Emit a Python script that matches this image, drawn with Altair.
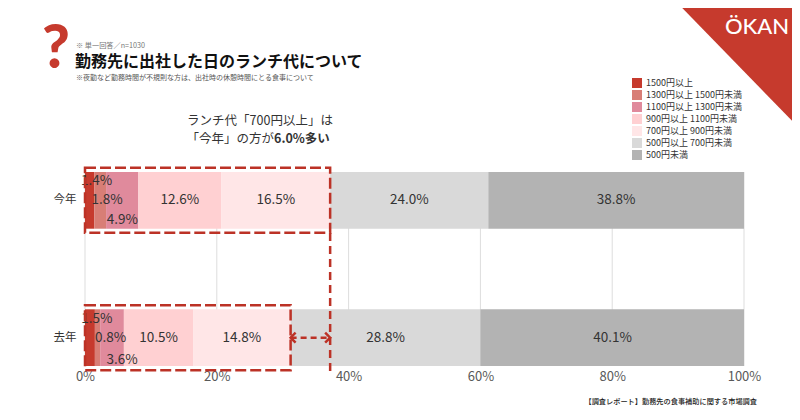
import altair as alt
import pandas as pd

# Data

YEARS = ['今年', '去年']
BRACKETS = [
  '1500円以上', '1300円以上 1500円未満', '1100円以上 1300円未満',
  '900円以上 1100円未満', '700円以上 900円未満', '500円以上 700円未満', '500円未満'
]
COLORS = ['#C63A2D', '#D87E76', '#E08A9C', '#FFD0D2', '#FFE6E7', '#D9D9D9', '#B3B3B3']
THIS_YEAR = [1.4, 1.8, 4.9, 12.6, 16.5, 24.0, 38.8]
LAST_YEAR = [1.5, 0.8, 3.6, 10.5, 14.8, 28.8, 40.1]
TICKS = [0, 20, 40, 60, 80, 100]

FONT = 'Noto Sans CJK JP'
RED = '#BC3226'
TEXT = '#333333'

rows = []
for year, values in zip(YEARS, [THIS_YEAR, LAST_YEAR]):
  start = 0.0
  for order, (bracket, value) in enumerate(zip(BRACKETS, values)):
    rows.append({
      'year': year, 'bracket': bracket, 'order': order, 'value': value,
      'start': start, 'end': min(start + value, 100), 'mid': start + value / 2,
      'label': f'{value:.1f}%'
    })
    start += value
source = pd.DataFrame(rows)

# share of 700 yen and over, the sum of the first five brackets
share = pd.DataFrame([
  {'year': year, 'low': 0, 'high': round(sum(values[:5]), 1)}
  for year, values in zip(YEARS, [THIS_YEAR, LAST_YEAR])
])
high_this = share['high'][0]
high_last = share['high'][1]

# Chart

x_scale = alt.Scale(domain=[0, 100], nice=False)
y_scale = alt.Scale(domain=YEARS, paddingInner=0.587, paddingOuter=0)
y = alt.Y('year:N', scale=y_scale, title=None)

def _x(field):
  return alt.X(field, scale=x_scale, title=None)

grid = alt.Chart(pd.DataFrame({'tick': TICKS})).mark_rule(
  color='#DDDDDD', strokeWidth=1
).encode(
  x=alt.X('tick:Q', scale=x_scale, title=None, axis=alt.Axis(
    values=TICKS, labelExpr='datum.value + "%"', grid=False, ticks=False, domain=False,
    labelFont=FONT, labelFontSize=13, labelColor='#595959', labelPadding=4, labelFlush=False
  ))
)

bars = alt.Chart(source).mark_bar(strokeWidth=0).encode(
  x=_x('start:Q'), x2='end:Q',
  y=alt.Y('year:N', scale=y_scale, title=None, axis=alt.Axis(
    ticks=False, domain=False, labelFont=FONT, labelFontSize=11.5,
    labelColor=TEXT, labelPadding=9
  )),
  color=alt.Color('bracket:N', scale=alt.Scale(domain=BRACKETS, range=COLORS), title=None, legend=alt.Legend(
    orient='none', legendX=547, legendY=-95, symbolType='square', symbolSize=100,
    symbolStrokeWidth=0, symbolOpacity=1, labelFont=FONT, labelFontSize=9, labelColor=TEXT,
    labelLimit=200, clipHeight=12, rowPadding=0, labelOffset=4
  )),
  order='order:Q'
)

def _segment_labels(year, orders, dx=0, dy=0):
  data = source[(source['year'] == year) & (source['order'].isin(orders))]
  return alt.Chart(data).mark_text(
    font=FONT, fontSize=13.5, color=TEXT, dx=dx, dy=dy
  ).encode(x=_x('mid:Q'), y=y, text='label:N')

labels = [
  _segment_labels('今年', [0], dx=7, dy=-19),
  _segment_labels('今年', [1], dx=7),
  _segment_labels('今年', [2], dy=20),
  _segment_labels('今年', [3, 4, 5, 6]),
  _segment_labels('去年', [0], dx=7, dy=-19),
  _segment_labels('去年', [1], dx=13),
  _segment_labels('去年', [2], dx=10, dy=22),
  _segment_labels('去年', [3, 4, 5, 6]),
]

boxes = alt.Chart(share).mark_bar(
  size=65, fillOpacity=0, stroke=RED, strokeWidth=2.5, strokeDash=[11, 4]
).encode(
  x=_x('low:Q'), x2='high:Q', y=y
)

drop_line = alt.Chart(share[share['year'] == '今年']).mark_rule(
  color=RED, strokeWidth=2.5, strokeDash=[8, 5]
).encode(
  x=_x('high:Q'), y=alt.value(61), y2=alt.value(200)
)

gap = pd.DataFrame({'year': ['去年'], 'low': [high_last], 'high': [high_this]})
gap_line = alt.Chart(gap).mark_rule(
  color=RED, strokeWidth=2.5, strokeDash=[6, 4]
).encode(
  x=_x('low:Q'), x2='high:Q', y=y
)
arrow_left = alt.Chart(gap).mark_point(
  shape='M 1 -1 L 0 0 L 1 1', filled=False, stroke=RED, strokeWidth=2.5, size=100, opacity=1
).encode(x=_x('low:Q'), y=y)
arrow_right = alt.Chart(gap).mark_point(
  shape='M -1 -1 L 0 0 L -1 1', filled=False, stroke=RED, strokeWidth=2.5, size=100, opacity=1
).encode(x=_x('high:Q'), y=y)

def _note(text, px, py, size, color=TEXT, weight='normal', align='left', font=FONT):
  # px, py are page pixels, turned into plot coordinates
  return alt.Chart(pd.DataFrame({'text': [text]})).mark_text(
    font=font, fontSize=size, color=color, fontWeight=weight, align=align, baseline='middle'
  ).encode(x=alt.value(px - 85), y=alt.value(py - 172), text='text:N')

corner = alt.Chart(pd.DataFrame({'text': ['corner']})).mark_point(
  shape='M -0.946 -1 L 1 -1 L 1 1 Z', filled=True, fill='#C63A2D', strokeWidth=0,
  size=129 * 129, opacity=1
).encode(x=alt.value(735.5 - 85), y=alt.value(64.5 - 172))

notes = [
  corner,
  _note('ÖKAN', 757, 27, 22, color='white', weight=500, align='center', font='Lato'),
  _note('?', 56, 50, 60, color='#C63A2D', weight=900, align='center', font='Lato'),
  _note('※ 単一回答／n=1030', 76, 46, 7.2, color='#777777'),
  _note('勤務先に出社した日のランチ代について', 75, 62, 16, color='#111111', weight='bold'),
  _note('※夜勤など勤務時間が不規則な方は、出社時の休憩時間にとる食事について', 76, 78, 7, color='#555555'),
  _note('ランチ代「700円以上」は', 260, 121, 12.5, align='center'),
  _note('「今年」の方が', 274, 139, 12.5, align='right'),
  _note('6.0%多い', 274, 139, 12.5, weight='bold'),
  _note('【調査レポート】勤務先の食事補助に関する市場調査', 757, 402, 7.2, color='#222222', weight=500, align='right'),
]

chart = alt.layer(
  grid, bars, *labels, boxes, drop_line, gap_line, arrow_left, arrow_right, *notes
).properties(
  width=659, height=194,
  padding={'left': 77, 'right': 48, 'top': 164, 'bottom': 46},
  autosize=alt.AutoSizeParams(type='none'),
  background='white'
).configure_view(stroke=None)

chart.save("out.html", embed_options={"renderer": "svg", "actions": False})
